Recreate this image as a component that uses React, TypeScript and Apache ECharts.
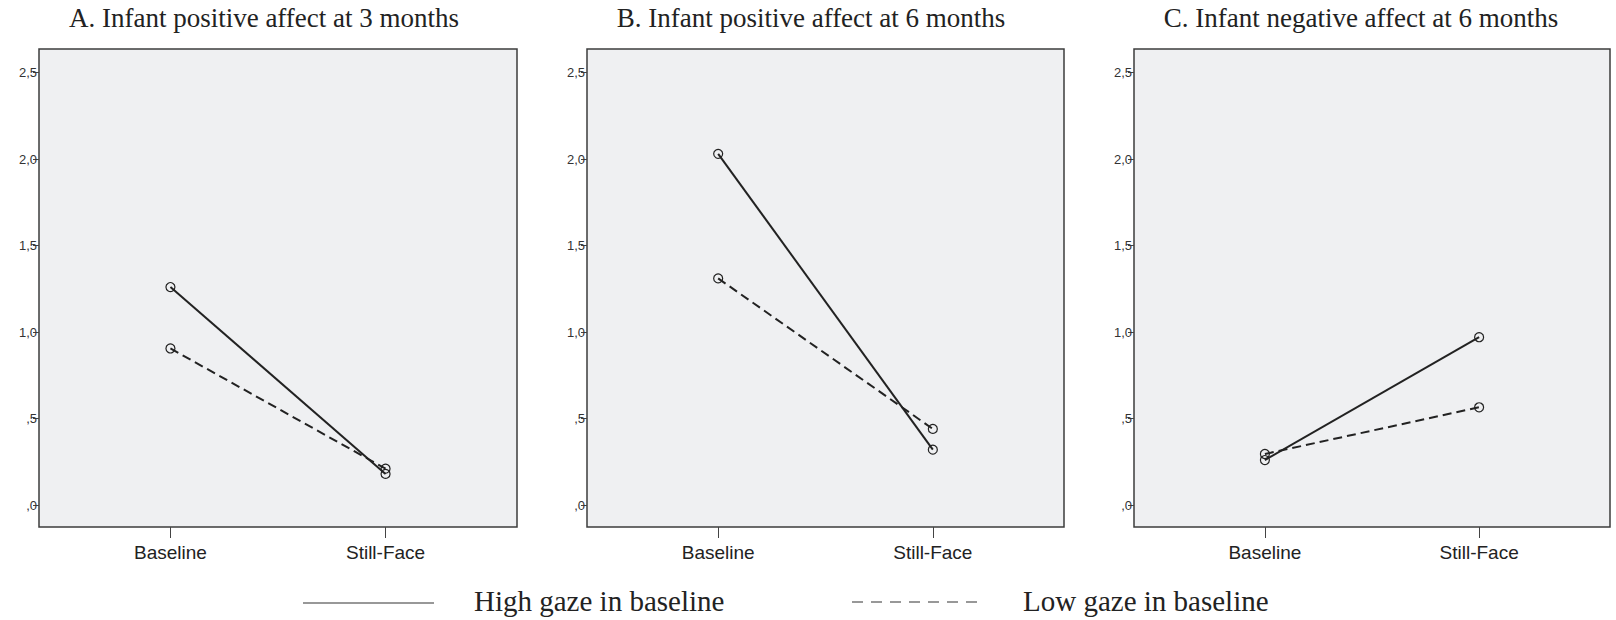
import React, { useEffect, useRef } from "react";
import * as echarts from "echarts";

const categories = ["Baseline", "Still-Face"];
const panelTitles = [
  "A. Infant positive affect at 3 months",
  "B. Infant positive affect at 6 months",
  "C. Infant negative affect at 6 months",
];
const highA = [1.26, 0.18];
const lowA = [0.905, 0.21];
const highB = [2.03, 0.32];
const lowB = [1.31, 0.44];
const highC = [0.26, 0.97];
const lowC = [0.295, 0.565];
const yTicks = [0, 0.5, 1, 1.5, 2, 2.5];
const legendLabels = ["High gaze in baseline", "Low gaze in baseline"];

const highSeries = [highA, highB, highC];
const lowSeries = [lowA, lowB, lowC];

const gridLefts = [39, 587, 1134];
const gridWidths = [478, 477, 476];
const titleCenters = [264, 811, 1361];

const fmtY = (v: number) => {
  let s = v.toFixed(1).replace(".", ",");
  if (s.startsWith("0")) s = s.slice(1);
  return s;
};

export default function App() {
  const ref = useRef<HTMLDivElement>(null);
  useEffect(() => {
    if (!ref.current) return;
    const chart = echarts.init(ref.current, null, { renderer: "svg" });
    const grids: any[] = [];
    const xAxes: any[] = [];
    const yAxes: any[] = [];
    const series: any[] = [];
    const graphics: any[] = [];
    for (let i = 0; i < 3; i++) {
      grids.push({
        left: gridLefts[i],
        top: 49,
        width: gridWidths[i],
        height: 478,
        show: true,
        backgroundColor: "#eff0f2",
        borderColor: "#3c3c3c",
        borderWidth: 1.5,
      });
      xAxes.push({
        type: "value",
        gridIndex: i,
        position: "bottom",
        min: -0.611,
        max: 1.611,
        axisLine: { show: false, onZero: false },
        splitLine: { show: false },
        axisTick: {
          show: true,
          customValues: [0, 1],
          length: 11,
          lineStyle: { color: "#444", width: 1 },
        },
        axisLabel: {
          customValues: [0, 1],
          formatter: (v: number) => categories[Math.round(v)] ?? "",
          margin: 16,
          fontFamily: "Liberation Sans",
          fontSize: 19,
          color: "#222",
        },
      });
      yAxes.push({
        type: "value",
        gridIndex: i,
        position: "left",
        min: -0.127,
        max: 2.636,
        axisLine: { show: false, onZero: false },
        splitLine: { show: false },
        axisTick: {
          show: true,
          customValues: yTicks,
          length: 6,
          lineStyle: { color: "#444", width: 1 },
        },
        axisLabel: {
          customValues: yTicks,
          formatter: (v: number) => fmtY(v),
          margin: 2,
          fontFamily: "Liberation Sans",
          fontSize: 13,
          color: "#333",
        },
      });
      const mk = (vals: number[], name: string, dashed: boolean) => ({
        type: "line",
        name,
        xAxisIndex: i,
        yAxisIndex: i,
        data: vals.map((v, k) => [k, v]),
        symbol: "circle",
        symbolSize: 9,
        itemStyle: { color: "rgba(0,0,0,0)", borderColor: "#222", borderWidth: 1.2 },
        lineStyle: { color: "#222", width: 2, type: dashed ? [9, 5] : "solid" },
        z: dashed ? 2 : 3,
      });
      series.push(mk(lowSeries[i], legendLabels[1], true));
      series.push(mk(highSeries[i], legendLabels[0], false));
      graphics.push({
        type: "text",
        x: titleCenters[i],
        y: 18,
        style: {
          text: panelTitles[i],
          font: "27px 'Liberation Serif'",
          fill: "#222",
          textAlign: "center",
          textVerticalAlign: "middle",
        },
      });
    }
    graphics.push(
      {
        type: "line",
        shape: { x1: 303, y1: 603, x2: 434, y2: 603 },
        style: { stroke: "#333", lineWidth: 1.2 },
      },
      {
        type: "text",
        x: 474,
        y: 601,
        style: {
          text: legendLabels[0],
          font: "29px 'Liberation Serif'",
          fill: "#222",
          textAlign: "left",
          textVerticalAlign: "middle",
        },
      },
      {
        type: "line",
        shape: { x1: 852, y1: 602, x2: 978, y2: 602 },
        style: { stroke: "#333", lineWidth: 1.2, lineDash: [11, 8] },
      },
      {
        type: "text",
        x: 1023,
        y: 601,
        style: {
          text: legendLabels[1],
          font: "29px 'Liberation Serif'",
          fill: "#222",
          textAlign: "left",
          textVerticalAlign: "middle",
        },
      }
    );
    chart.setOption({
      animation: false,
      backgroundColor: "#ffffff",
      grid: grids,
      xAxis: xAxes,
      yAxis: yAxes,
      series,
      graphic: graphics,
    });
    return () => chart.dispose();
  }, []);
  return (
    <div
      ref={ref}
      style={{ position: "fixed", left: 0, top: 0, width: 1616, height: 620 }}
    />
  );
}
